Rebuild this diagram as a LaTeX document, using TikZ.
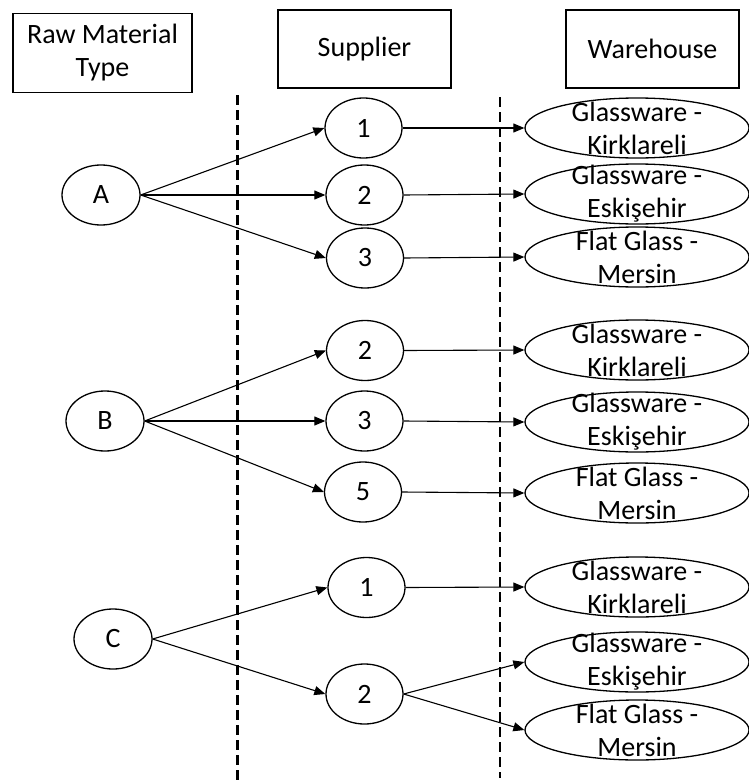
\documentclass[tikz,border=0pt]{standalone}
\usepackage{fontspec}
\setmainfont{Carlito}
\usetikzlibrary{arrows.meta,shapes.geometric}
\begin{document}
\begin{tikzpicture}[x=1pt,y=-1pt,
  every node/.style={font=\fontsize{28}{33}\selectfont},
  headbox/.style={draw,line width=1.3pt,rectangle,inner sep=0pt,align=center},
  matnode/.style={draw,line width=1.3pt,ellipse,inner sep=0pt,minimum width=78pt,minimum height=60pt},
  supnode/.style={draw,line width=1.3pt,ellipse,inner sep=0pt,minimum width=77pt,minimum height=60pt},
  whnode/.style={draw,line width=1.3pt,ellipse,inner sep=0pt,minimum width=224pt,minimum height=60pt},
  whtext/.style={align=center,inner sep=0pt},
  link/.style={line width=1.1pt,-{Triangle[length=11pt,width=9pt]}},
  divider/.style={dash pattern=on 10pt off 5pt}
]
\useasboundingbox (0,0) rectangle (748,784);

% column headers
\node[headbox,minimum width=179pt,minimum height=79pt] (hraw) at (102.5,53) {Raw Material\\Type};
\node[headbox,minimum width=173pt,minimum height=78pt] (hsup) at (364.5,49) {Supplier};
\node[headbox,minimum width=173pt,minimum height=78pt] (hwh) at (652.5,49) {Warehouse};

% column dividers
\coordinate (d1t) at (237,95);  \coordinate (d1b) at (237,784);
\coordinate (d2t) at (500,97);  \coordinate (d2b) at (500,778);
\draw[divider,line width=3pt] (d1t) -- (d1b);
\draw[divider,line width=2pt] (d2t) -- (d2b);

% raw material types
\node[matnode] (A) at (101,195) {A};
\node[matnode] (B) at (105,421) {B};
\node[matnode] (C) at (113,639) {C};

% suppliers
\node[supnode] (a1) at (363.5,128) {1};
\node[supnode] (a2) at (364.5,195) {2};
\node[supnode] (a3) at (365,258) {3};
\node[supnode] (b2) at (365,350.5) {2};
\node[supnode] (b3) at (364.5,421) {3};
\node[supnode] (b5) at (363,492) {5};
\node[supnode] (c1) at (366.5,587.5) {1};
\node[supnode] (c2) at (364.5,694) {2};

% warehouses
\foreach \n/\y/\l in {wa1/128/{Glassware -\\Kirklareli},
                      wa2/194/{Glassware -\\Eskişehir},
                      wa3/257/{Flat Glass -\\Mersin},
                      wb1/350/{Glassware -\\Kirklareli},
                      wb2/422/{Glassware -\\Eskişehir},
                      wb3/493/{Flat Glass -\\Mersin},
                      wc1/587/{Glassware -\\Kirklareli},
                      wc2/662/{Glassware -\\Eskişehir},
                      wc3/730/{Flat Glass -\\Mersin}}{
  \node[whnode] (\n) at (637,\y) {};
  \node[whtext] at (\n.center) {\l};
}

% material to supplier
\draw[link] (A.east) -- (a1.west);
\draw[link] (A.east) -- (a2.west);
\draw[link] (A.east) -- (a3.west);
\draw[link] (B.east) -- (b2.west);
\draw[link] (B.east) -- (b3.west);
\draw[link] (B.east) -- (b5.west);
\draw[link] (C.east) -- (c1.west);
\draw[link] (C.east) -- (c2.west);

% supplier to warehouse
\draw[link] (a1.east) -- (wa1.west);
\draw[link] (a2.east) -- (wa2.west);
\draw[link] (a3.east) -- (wa3.west);
\draw[link] (b2.east) -- (wb1.west);
\draw[link] (b3.east) -- (wb2.west);
\draw[link] (b5.east) -- (wb3.west);
\draw[link] (c1.east) -- (wc1.west);
\draw[link] (c2.east) -- (wc2.west);
\draw[link] (c2.east) -- (wc3.west);
\end{tikzpicture}
\end{document}
